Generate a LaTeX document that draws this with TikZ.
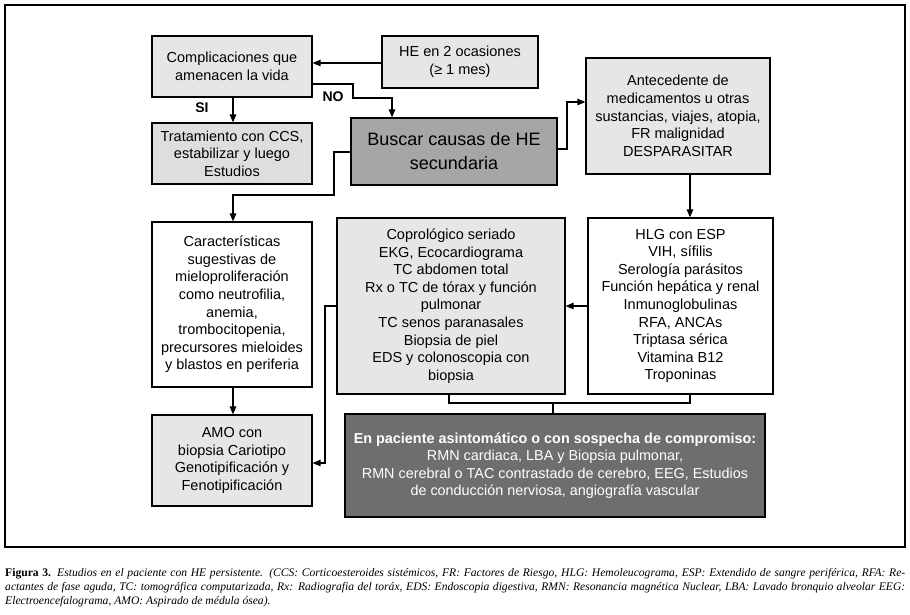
\documentclass[tikz,border=0pt]{standalone}
\usepackage{fontspec}
\setmainfont{Liberation Sans}
\newfontfamily\capfont{Liberation Serif}
\usetikzlibrary{arrows.meta}
\definecolor{lightfill}{HTML}{E6E6E6}
\definecolor{tratfill}{HTML}{DEDEDE}
\definecolor{midfill}{HTML}{A6A6A6}
\definecolor{darkfill}{HTML}{6E6E6E}
\tikzset{
  box/.style={draw, line width=1.2pt, align=center, inner sep=2pt,
    font=\fontsize{14.5}{17.6}\selectfont},
  arr/.style={line width=1.2pt, -{Triangle[length=8pt,width=6.5pt]}},
  conn/.style={line width=1.2pt},
  lbl/.style={font=\bfseries\fontsize{14}{16}\selectfont, inner sep=0pt}
}
\begin{document}
\begin{tikzpicture}[x=1pt,y=-1pt]
\useasboundingbox (0,0) rectangle (910,614);
\fill[white] (0,0) rectangle (910,614);
\draw[line width=2.6pt] (5,5) rectangle (905,547);

\node[box, fill=lightfill, minimum width=160pt, minimum height=61pt] (comp) at (232,66.5) {Complicaciones que\\amenacen la vida};
\node[box, fill=lightfill, minimum width=156pt, minimum height=52pt] (he) at (460,62) {HE en 2 ocasiones\\(≥ 1 mes)};
\node[box, fill=tratfill, minimum width=160pt, minimum height=61pt] (trat) at (232,153.5) {Tratamiento con CCS,\\estabilizar y luego\\Estudios};
\node[box, fill=midfill, minimum width=206pt, minimum height=67pt, font=\fontsize{18}{24}\selectfont] (busc) at (454,151.5) {Buscar causas de HE\\secundaria};
\node[box, fill=lightfill, minimum width=184pt, minimum height=116pt] (ante) at (678,116) {Antecedente de\\medicamentos u otras\\sustancias, viajes, atopia,\\FR malignidad\\DESPARASITAR};
\node[box, fill=white, minimum width=160pt, minimum height=165pt] (cara) at (232,304.5) {Características\\sugestivas de\\mieloproliferación\\como neutrofilia,\\anemia,\\trombocitopenia,\\precursores mieloides\\y blastos en periferia};
\node[box, fill=lightfill, minimum width=228pt, minimum height=176pt] (copro) at (451,306) {Coprológico seriado\\EKG, Ecocardiograma\\TC abdomen total\\Rx o TC de tórax y función\\pulmonar\\TC senos paranasales\\Biopsia de piel\\EDS y colonoscopia con\\biopsia};
\node[box, fill=white, minimum width=185pt, minimum height=176pt] (hlg) at (680.5,306) {HLG con ESP\\VIH, sífilis\\Serología parásitos\\Función hepática y renal\\Inmunoglobulinas\\RFA, ANCAs\\Triptasa sérica\\Vitamina B12\\Troponinas};
\node[box, fill=lightfill, minimum width=160pt, minimum height=91pt] (amo) at (232,460.5) {AMO con\\biopsia Cariotipo\\Genotipificación y\\Fenotipificación};
\node[box, fill=darkfill, text=white, minimum width=420pt, minimum height=103pt, font=\fontsize{14.4}{17.5}\selectfont] (pac) at (555,465.5) {\textbf{En paciente asintomático o con sospecha de compromiso:}\\RMN cardiaca, LBA y Biopsia pulmonar,\\RMN cerebral o TAC contrastado de cerebro, EEG, Estudios\\de conducción nerviosa, angiografía vascular};

% connectors
\draw[arr] (he.west |- 0,63) -- (comp.east |- 0,63);
\draw[arr] (comp.south -| 233,0) -- (trat.north -| 233,0);
\draw[arr] (comp.east |- 0,84) -- (353,84) -- (353,98) -- (392,98) -- (busc.north -| 392,0);
\draw[arr] (busc.west |- 0,152) -- (334,152) -- (334,195) -- (233,195) -- (cara.north -| 233,0);
\draw[arr] (cara.south -| 233,0) -- (amo.north -| 233,0);
\draw[arr] (busc.east |- 0,149) -- (567,149) -- (567,102) -- (ante.west |- 0,102);
\draw[arr] (ante.south -| 690,0) -- (hlg.north -| 690,0);
\draw[arr] (hlg.west |- 0,306) -- (copro.east |- 0,306);
\draw[arr] (copro.west |- 0,306) -- (325,306) -- (325,463) -- (amo.east |- 0,463);
\draw[conn] (copro.south -| 449,0) -- (449,403) -- (690,403) -- (hlg.south -| 690,0);
\coordinate (j) at (553,403);
\draw[conn] (j) -- (pac.north -| j);

\node[lbl] (si) at (202,108) {SI};
\node[lbl] (no) at (333,97) {NO};

\node[anchor=north west, inner sep=0pt, text width=900pt, align=justify,
  font=\capfont\fontsize{11.6}{14}\selectfont] (cap) at (5,568)
  {\textbf{Figura 3.} \textit{Estudios en el paciente con HE persistente. (CCS: Corticoesteroides sistémicos, FR: Factores de Riesgo, HLG: Hemoleucograma, ESP: Extendido de sangre periférica, RFA: Re-\linebreak actantes de fase aguda, TC: tomográfica computarizada, Rx: Radiografia del toráx, EDS: Endoscopia digestiva, RMN: Resonancia magnética Nuclear, LBA: Lavado bronquio alveolar EEG:\linebreak Electroencefalograma, AMO: Aspirado de médula ósea).}};
\end{tikzpicture}
\end{document}
